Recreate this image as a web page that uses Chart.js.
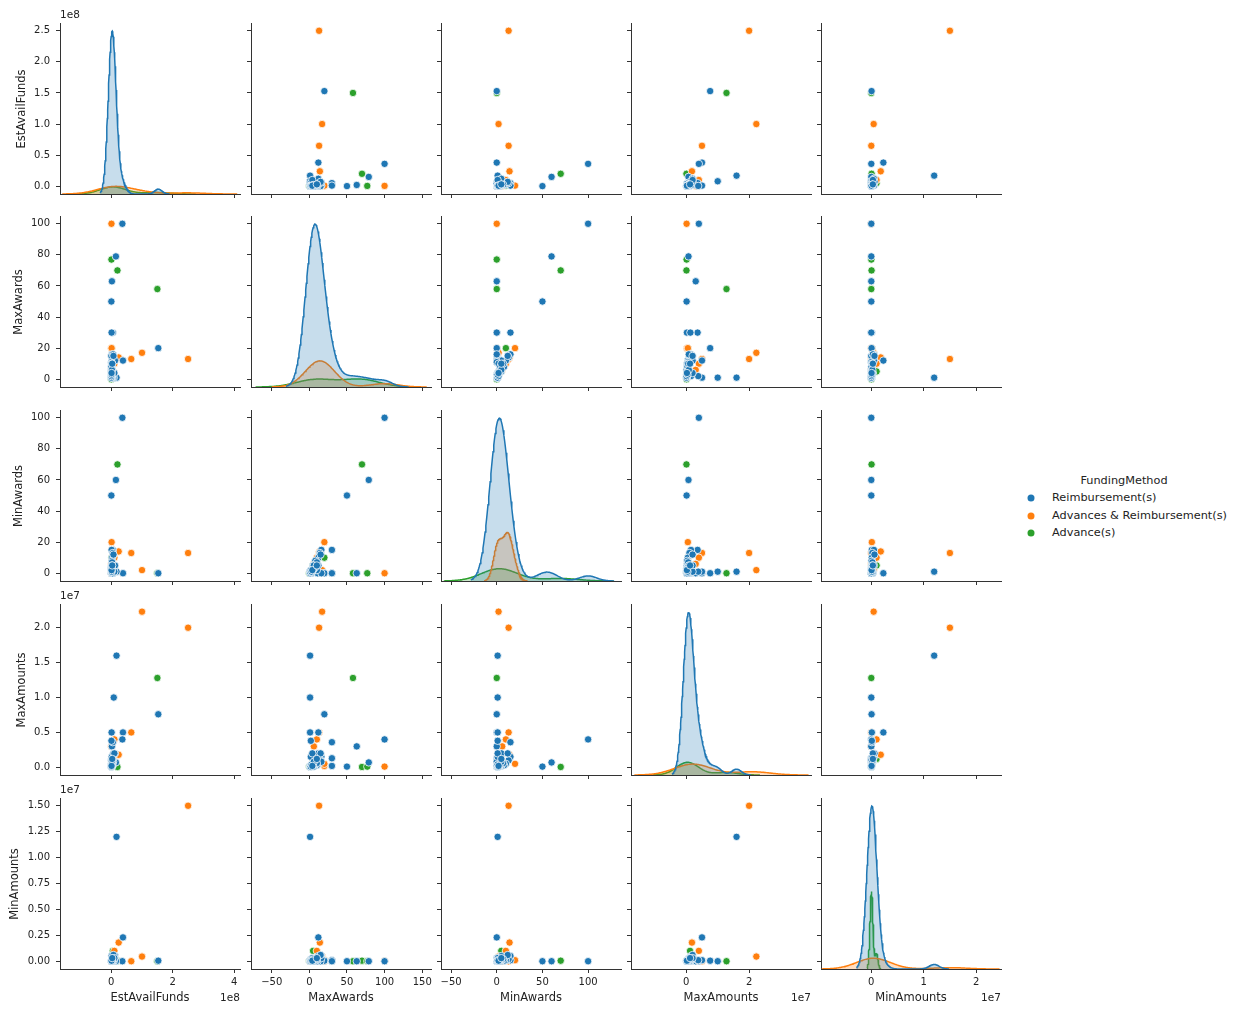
<!DOCTYPE html>
<html><head><meta charset="utf-8">
<script src="https://cdn.jsdelivr.net/npm/chart.js@4.4.1/dist/chart.umd.min.js"></script>
<style>
body{margin:0;background:#fff;width:1245px;height:1009px;position:relative;overflow:hidden;font-family:"DejaVu Sans",sans-serif;color:#222}
canvas{position:absolute}
.t{position:absolute;white-space:nowrap;font-size:11px;line-height:1}
.c{transform:translate(-50%,-50%)}
.r{transform:translate(-50%,-50%) rotate(-90deg)}
.dot{position:absolute;width:7px;height:7px;border-radius:50%;transform:translate(-50%,-50%)}
</style></head><body>
<script>
// ---------------- DATA ----------------
const fundingMethods = ["Reimbursement(s)", "Advances & Reimbursement(s)", "Advance(s)"];
const variables = ["EstAvailFunds", "MaxAwards", "MinAwards", "MaxAmounts", "MinAmounts"];
// 0 = Reimbursement(s), 1 = Advances & Reimbursement(s), 2 = Advance(s)
const fundingMethod = [
  0,0,0,0,0,0,0,0,0,0, 0,0,0,0,0,0,0,0,0,0, 0,0,0,0,0,0,0,0,0,0, 0,0,0,0,0,0,0,0,
  1,1,1,1,1,1,1,1,1,
  2,2,2,2,2,2
];
const estAvailFunds = [
  153e6,38e6,36e6,17e6,15e6,2e6,0.2e6,2e6,8e6,5e6, 1e6,1e6,5e6,3e6,12e6,2e6,1e6,0.5e6,0.3e6,0.5e6,
  6e6,1.5e6,4e6,0.8e6,0.2e6,7e6,1e6,0.5e6,10e6,0.3e6, 2.5e6,0.1e6,0.2e6,0.5e6,1e6,2e6,0.8e6,3e6,
  250e6,100e6,65e6,24e6,0.5e6,0.2e6,10e6,0.3e6,1e6,
  150e6,20e6,0.5e6,5e6,0.2e6,1e6
];
const maxAwards = [
  20,12,100,1,79,63,50,30,1,30, 30,16,14,12,12,8,5,3,15,11,
  16,2,1,10,6,15,1,2,4,8, 10,1,2,5,3,6,4,10,
  13,17,13,14,100,20,10,6,20,
  58,70,77,5,0,20
];
const minAwards = [
  0,0,100,1,60,0,50,0,1,15, 0,15,13,10,5,8,5,0,0,0,
  0,1,0,2,3,12,1,1,1,4, 7,1,2,3,1,5,2,5,
  13,2,13,14,0,0,10,6,20,
  0,70,0,5,0,10
];
const maxAmounts = [
  7.6e6,5.0e6,4.0e6,16e6,0.7e6,3.0e6,0.1e6,0.2e6,10e6,3.6e6, 1.3e6,1.5e6,1.0e6,0.5e6,2.0e6,0.3e6,0.2e6,0.1e6,1.0e6,0.5e6,
  0.8e6,1.5e6,0.2e6,0.3e6,0.1e6,2.0e6,5.0e6,3.8e6,2.0e6,0.4e6, 0.6e6,0.05e6,0.1e6,0.3e6,0.4e6,0.8e6,0.2e6,1.2e6,
  20e6,22.3e6,5e6,1.8e6,0.1e6,0.2e6,4e6,3e6,0.5e6,
  12.8e6,0.05e6,0.1e6,1.2e6,0.1e6,0.5e6
];
const minAmounts = [
  0.05e6,2.3e6,0,12e6,0,0,0,0,0,0.1e6, 0,0.5e6,0.2e6,0.1e6,0.5e6,0.05e6,0.05e6,0,0,0,
  0.3e6,0.2e6,0,0.1e6,0,0.6e6,0.1e6,0.1e6,0.3e6,0.05e6, 0.2e6,0.01e6,0.02e6,0.05e6,0.1e6,0.2e6,0.05e6,0.3e6,
  15e6,0.45e6,0,1.8e6,0,0,1e6,0,0.1e6,
  0,0.05e6,0,1.0e6,0.02e6,0.1e6
];
const columns = [estAvailFunds, maxAwards, minAwards, maxAmounts, minAmounts];

// tick values and their labels
const estYTicks = [0, 0.5e8, 1e8, 1.5e8, 2e8, 2.5e8];
const estYLabels = ["0.0","0.5","1.0","1.5","2.0","2.5"];
const estXTicks = [0, 2e8, 4e8];
const estXLabels = ["0","2","4"];
const awardYTicks = [0,20,40,60,80,100];
const awardYLabels = ["0","20","40","60","80","100"];
const maxAwXTicks = [-50,0,50,100,150];
const maxAwXLabels = ["\u221250","0","50","100","150"];
const minAwXTicks = [-50,0,50,100];
const minAwXLabels = ["\u221250","0","50","100"];
const maxAmYTicks = [0,0.5e7,1e7,1.5e7,2e7];
const maxAmYLabels = ["0.0","0.5","1.0","1.5","2.0"];
const maxAmXTicks = [0,2e7];
const maxAmXLabels = ["0","2"];
const minAmYTicks = [0,0.25e7,0.5e7,0.75e7,1e7,1.25e7,1.5e7];
const minAmYLabels = ["0.00","0.25","0.50","0.75","1.00","1.25","1.50"];
const minAmXTicks = [0,1e7,2e7];
const minAmXLabels = ["0","1","2"];
const offsetLabels = ["1e8", "", "", "1e7", "1e7"];

// ---------------- LAYOUT / STYLE ----------------
const hueColors = ["#1f77b4", "#ff7f0e", "#2ca02c"];
const hueFills = ["rgba(31,119,180,0.25)", "rgba(255,127,14,0.25)", "rgba(44,160,44,0.25)"];
const axes = [
  {x:{min:-1.67e8,max:4.19e8,ticks:estXTicks,labels:estXLabels}, y:{min:-0.125e8,max:2.625e8,ticks:estYTicks,labels:estYLabels}},
  {x:{min:-77.5,max:161.7,ticks:maxAwXTicks,labels:maxAwXLabels}, y:{min:-5,max:105,ticks:awardYTicks,labels:awardYLabels}},
  {x:{min:-61,max:136,ticks:minAwXTicks,labels:minAwXLabels}, y:{min:-5,max:105,ticks:awardYTicks,labels:awardYLabels}},
  {x:{min:-1.76e7,max:3.97e7,ticks:maxAmXTicks,labels:maxAmXLabels}, y:{min:-0.11e7,max:2.34e7,ticks:maxAmYTicks,labels:maxAmYLabels}},
  {x:{min:-0.96e7,max:2.475e7,ticks:minAmXTicks,labels:minAmXLabels}, y:{min:-0.075e7,max:1.575e7,ticks:minAmYTicks,labels:minAmYLabels}}
];
const colLeft = [60, 251, 441, 631, 821];
const rowTop = [23, 216, 410, 604, 798];
const W = 180, H = 171;

Chart.defaults.font.family = "'DejaVu Sans', sans-serif";
Chart.defaults.font.size = 10;
Chart.defaults.color = "#222";

function kde(vals, weight) {
  const m = vals.length;
  const mean = vals.reduce((a,b)=>a+b,0)/m;
  const sd = Math.sqrt(vals.reduce((a,b)=>a+(b-mean)*(b-mean),0)/(m-1));
  const bw = sd*Math.pow(m,-0.2);
  const lo = Math.min(...vals)-3*bw, hi = Math.max(...vals)+3*bw;
  const pts = [];
  for (let k=0;k<200;k++) {
    const x = lo+(hi-lo)*k/199;
    let s = 0;
    for (const v of vals) { const z=(x-v)/bw; s += Math.exp(-0.5*z*z); }
    pts.push({x, y: weight*s/(m*bw*Math.sqrt(2*Math.PI))});
  }
  return pts;
}

function scaleOpts(spec, showLabels, fixSize, isX) {
  return {
    type: "linear", min: spec.min, max: spec.max,
    afterBuildTicks: s => { s.ticks = spec.ticks.filter(v=>v>=spec.min&&v<=spec.max).map(v=>({value:v})); },
    afterFit: s => {
      if (isX) s.height = fixSize; else s.width = fixSize;
      s.paddingLeft = s.paddingRight = s.paddingTop = s.paddingBottom = 0;
    },
    ticks: {
      display: showLabels, autoSkip: false, maxRotation: 0, minRotation: 0, padding: isX ? 3 : 6, color: "#222",
      font: {size: 10},
      callback: v => { const i = spec.ticks.indexOf(v); return i>=0 ? spec.labels[i] : ""; }
    },
    grid: {display: true, drawOnChartArea: false, drawTicks: true, tickLength: 4, tickWidth: 1, tickColor: "#333"},
    border: {display: true, color: "#333", width: 1}
  };
}

const N = fundingMethod.length;
for (let i=0;i<5;i++) {
  for (let j=0;j<5;j++) {
    const L = j===0 ? 60 : 10, T = 8, R = 6, B = i===4 ? 30 : 8;
    const cv = document.createElement("canvas");
    cv.width = L+W+R; cv.height = T+H+B;
    cv.style.left = (colLeft[j]-L)+"px"; cv.style.top = (rowTop[i]-T)+"px";
    cv.style.width = cv.width+"px"; cv.style.height = cv.height+"px";
    document.body.appendChild(cv);
    const xs = scaleOpts(axes[j].x, i===4, B, true);
    const ys = scaleOpts(axes[i].y, j===0, L, false);
    let cfg;
    if (i===j) {
      const datasets = [];
      let maxD = 0;
      for (let h=0;h<3;h++) {
        const vals = columns[j].filter((_,k)=>fundingMethod[k]===h);
        const pts = kde(vals, vals.length/N);
        pts.forEach(p=>{ if (p.y>maxD) maxD=p.y; });
        datasets.push({data: pts, yAxisID: "yk", borderColor: hueColors[h], backgroundColor: hueFills[h],
          fill: "origin", pointRadius: 0, borderWidth: 1.5, tension: 0});
      }
      cfg = {type: "line", data: {datasets},
        options: {responsive:false, animation:false, devicePixelRatio:1, events:[],
          layout:{padding:{left:0,top:T,right:R,bottom:0}},
          plugins:{legend:{display:false}, tooltip:{enabled:false}},
          scales:{x: xs, y: ys, yk:{type:"linear", display:false, min:0, max:maxD*1.05}}}};
    } else {
      const datasets = [];
      for (let h=0;h<3;h++) {
        const pts = [];
        for (let k=0;k<N;k++) if (fundingMethod[k]===h) pts.push({x: columns[j][k], y: columns[i][k]});
        datasets.push({data: pts, backgroundColor: hueColors[h], borderColor: "#fff", borderWidth: 0.8,
          pointRadius: 3.7, pointHoverRadius: 3.7});
      }
      cfg = {type: "scatter", data: {datasets},
        options: {responsive:false, animation:false, devicePixelRatio:1, events:[],
          layout:{padding:{left:0,top:T,right:R,bottom:0}},
          plugins:{legend:{display:false}, tooltip:{enabled:false}},
          scales:{x: xs, y: ys}}};
    }
    new Chart(cv, cfg);
  }
}

// ---------------- TEXT ----------------
function addText(txt, x, y, cls, size) {
  const d = document.createElement("div");
  d.className = "t " + (cls||"");
  d.textContent = txt;
  d.style.left = x+"px"; d.style.top = y+"px";
  if (size) d.style.fontSize = size+"px";
  document.body.appendChild(d);
  return d;
}
const yLabelX = [22, 19, 19, 22, 15];
for (let i=0;i<5;i++) {
  addText(variables[i], yLabelX[i], rowTop[i]+H/2, "r", 11.5);
  addText(variables[i], colLeft[i]+W/2, 998, "c", 11.5);
  if (offsetLabels[i]) {
    addText(offsetLabels[i], colLeft[0], rowTop[i]-14, "", 10.5);
    addText(offsetLabels[i], colLeft[i]+W-20, 992, "", 10.5);
  }
}
addText("FundingMethod", 1124, 481, "c", 11.3);
for (let h=0;h<3;h++) {
  const d = document.createElement("div");
  d.className = "dot";
  d.style.left = "1031px"; d.style.top = (498+17.5*h)+"px";
  d.style.background = hueColors[h];
  document.body.appendChild(d);
  const t = addText(fundingMethods[h], 1052, 498+17.5*h, "", 11.3);
  t.style.transform = "translateY(-50%)";
}
</script>
</body></html>
